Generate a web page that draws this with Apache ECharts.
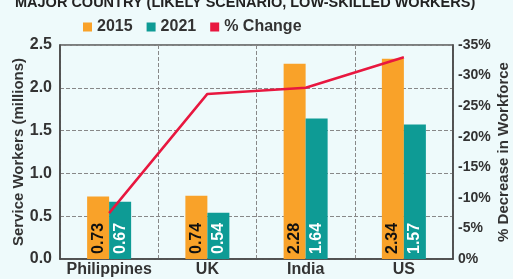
<!DOCTYPE html>
<html>
<head>
<meta charset="utf-8">
<script src="https://cdn.jsdelivr.net/npm/echarts@6/dist/echarts.min.js"></script>
<style>
  html, body { margin: 0; padding: 0; background: #eefafb; }
  #chart { width: 513px; height: 279px; }
</style>
</head>
<body>
<div id="chart"></div>
<script>
const countries = ['Philippines', 'UK', 'India', 'US'];
const workers2015 = [0.73, 0.74, 2.28, 2.34];
const workers2021 = [0.67, 0.54, 1.64, 1.57];
const pctChange = [-7.5, -27, -28, -33];

const FONT = "'Liberation Sans', Arial, sans-serif";
// bold text used everywhere on the graphic
const txt = (size, color) => ({
    fontSize: size, fontWeight: 'bold', color: color, fontFamily: FONT
});

const chart = echarts.init(document.getElementById('chart'));

const option = {
    backgroundColor: '#eefafb',
    title: {
        text: 'MAJOR COUNTRY (LIKELY SCENARIO, LOW-SKILLED WORKERS)',
        left: 10,
        top: -10,
        textStyle: txt(14.5, '#222')
    },
    legend: {
        left: 78,
        top: 14,
        itemWidth: 9,
        itemHeight: 9,
        itemGap: 14,
        icon: 'rect',
        textStyle: txt(16, '#333'),
        data: ['2015', '2021', '% Change']
    },
    grid: {
        left: 60,
        right: 60,
        top: 45,
        bottom: 20,
        outerBoundsMode: 'none',
        show: true,
        borderColor: '#555',
        borderWidth: 1.5
    },
    xAxis: {
        type: 'category',
        data: countries,
        axisLine: { lineStyle: { color: '#444', width: 1.5 } },
        axisTick: { show: false },
        axisLabel: Object.assign(txt(16, '#333'), { interval: 0, margin: 3 }),
        splitLine: { show: true, interval: 0, lineStyle: { type: 'dashed', color: '#888' } }
    },
    yAxis: [
        {
            type: 'value',
            min: 0,
            max: 2.5,
            interval: 0.5,
            name: 'Service Workers (millions)',
            nameLocation: 'middle',
            nameMoveOverlap: false,
            nameGap: 34,
            nameTextStyle: txt(15, '#333'),
            axisLine: { show: true, lineStyle: { color: '#444', width: 1.5 } },
            axisTick: { show: false },
            axisLabel: Object.assign(txt(16, '#333'), { margin: 8, formatter: v => v.toFixed(1) }),
            splitLine: { show: true, lineStyle: { type: 'dashed', color: '#888' } }
        },
        {
            type: 'value',
            min: -35,
            max: 0,
            interval: 5,
            inverse: true,
            name: '% Decrease in Workforce',
            nameLocation: 'middle',
            nameMoveOverlap: false,
            nameRotate: 90,
            nameGap: 43,
            nameTextStyle: txt(15, '#333'),
            axisLine: { show: true, lineStyle: { color: '#444', width: 1.5 } },
            axisTick: { show: false },
            axisLabel: Object.assign(txt(14, '#333'), { margin: 5, formatter: v => v + '%' }),
            splitLine: { show: false }
        }
    ],
    series: [
        {
            name: '2015',
            type: 'bar',
            data: workers2015,
            barWidth: 22,
            barGap: '0%',
            itemStyle: { color: '#f9a229' },
            label: Object.assign(txt(16, '#111'), {
                show: true,
                position: 'insideBottom',
                rotate: 90,
                align: 'left',
                verticalAlign: 'middle',
                distance: 5,
                formatter: p => p.value.toFixed(2)
            })
        },
        {
            name: '2021',
            type: 'bar',
            data: workers2021,
            barWidth: 22,
            itemStyle: { color: '#0e9b95' },
            label: Object.assign(txt(16, '#fff'), {
                show: true,
                position: 'insideBottom',
                rotate: 90,
                align: 'left',
                verticalAlign: 'middle',
                distance: 5,
                formatter: p => p.value.toFixed(2)
            })
        },
        {
            name: '% Change',
            type: 'line',
            yAxisIndex: 1,
            data: pctChange,
            symbol: 'none',
            z: 5,
            lineStyle: { color: '#e8173f', width: 2.5 },
            itemStyle: { color: '#e8173f' }
        }
    ]
};

chart.setOption(option);
</script>
</body>
</html>
